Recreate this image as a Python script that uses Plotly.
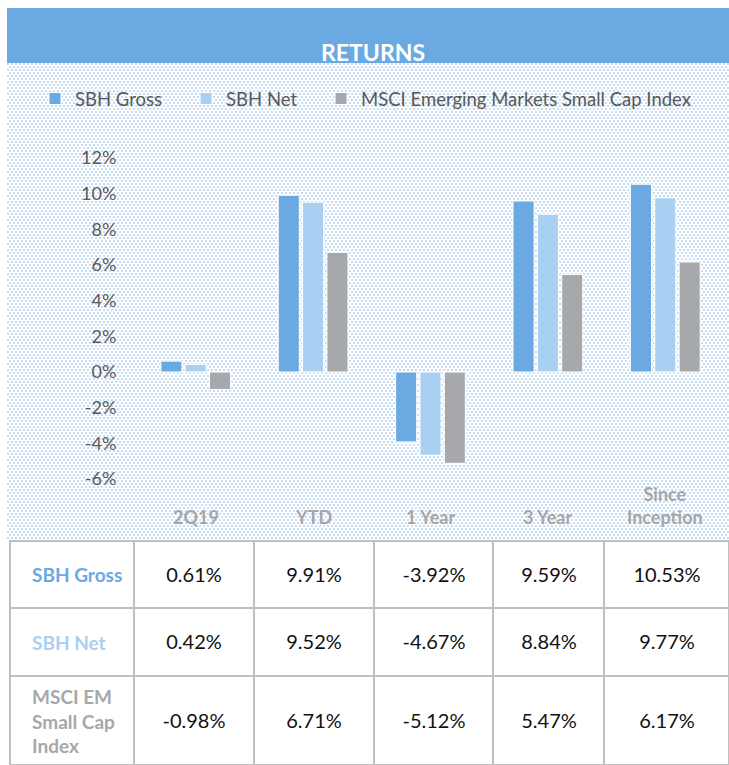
import base64
import plotly.graph_objects as go

categories = ["2Q19", "YTD", "1 Year", "3 Year", "Since Inception"]
category_labels = ["2Q19", "YTD", "1 Year", "3 Year", "Since<br>Inception"]
series_names = ["SBH Gross", "SBH Net", "MSCI Emerging Markets Small Cap Index"]
table_row_labels = ["SBH Gross", "SBH Net", "MSCI EM<br>Small Cap<br>Index"]
sbh_gross = [0.61, 9.91, -3.92, 9.59, 10.53]
sbh_net = [0.42, 9.52, -4.67, 8.84, 9.77]
msci_em_sc = [-0.98, 6.71, -5.12, 5.47, 6.17]
y_ticks = [-6, -4, -2, 0, 2, 4, 6, 8, 10, 12]

W, H = 729, 765
FONT = "Lato"
C_GROSS = "#6aa9e2"
C_NET = "#a9cff2"
C_MSCI = "#a6a8ab"
C_AXIS = "#595959"
C_GRID = "#bfbfbf"
PAD = "\u00a0" * 4

fig = go.Figure()
legend_names = [series_names[0] + PAD, series_names[1] + PAD, series_names[2]]
for name, vals, col in zip(legend_names, [sbh_gross, sbh_net, msci_em_sc], [C_GROSS, C_NET, C_MSCI]):
    fig.add_trace(go.Bar(x=categories, y=vals, name=name,
                         marker=dict(color=col, line=dict(color="white", width=1)),
                         hoverinfo="skip"))

# ---- table drawn as a heatmap grid (gaps reveal grey lines) ----
col_widths = [124, 120, 120, 119, 111, 125]
row_heights = [67, 68, 89]
x_edges = [sum(col_widths[:i]) for i in range(len(col_widths) + 1)]
y_edges = [sum(row_heights[:i]) for i in range(len(row_heights) + 1)]
series_rows = [sbh_gross, sbh_net, msci_em_sc]
cell_text = [[""] + [f"{v:.2f}%" for v in row] for row in series_rows]
fig.add_trace(go.Heatmap(
    x=x_edges, y=y_edges, z=[[0] * len(col_widths) for _ in row_heights],
    text=cell_text, texttemplate="%{text}",
    textfont=dict(family=FONT, size=20, color="#111111"),
    colorscale=[[0, "white"], [1, "white"]], showscale=False,
    xgap=2, ygap=2, xaxis="x2", yaxis="y2", hoverinfo="skip", showlegend=False,
))

# dotted background pattern
svg = ('<svg xmlns="http://www.w3.org/2000/svg" width="722" height="478">'
       '<defs><pattern id="p" width="4" height="6" patternUnits="userSpaceOnUse">'
       '<rect x="0" y="0" width="2" height="2" fill="#c5dcf5"/>'
       '<rect x="2" y="3" width="2" height="2" fill="#c5dcf5"/></pattern></defs>'
       '<rect width="722" height="478" fill="url(#p)"/></svg>')
src = "data:image/svg+xml;base64," + base64.b64encode(svg.encode()).decode()

annotations = [dict(text="<b>RETURNS</b>", x=373 / W, y=1 - 52 / H, xref="paper", yref="paper",
                    showarrow=False, font=dict(family=FONT, size=23, color="white"),
                    xanchor="center", yanchor="middle")]
for c, lab in zip(categories, category_labels):
    annotations.append(dict(text=f"<b>{lab}</b>", x=c, xref="x", y=1 - 530 / H, yref="paper",
                            showarrow=False, xanchor="center", yanchor="bottom",
                            font=dict(family=FONT, size=18, color="#a6a6a6")))
label_colors = [C_GROSS, C_NET, C_MSCI]
for i, (lab, col) in enumerate(zip(table_row_labels, label_colors)):
    annotations.append(dict(text=f"<b>{lab}</b>", x=x_edges[0], xref="x2", xshift=20,
                            y=(y_edges[i] + y_edges[i + 1]) / 2, yref="y2",
                            showarrow=False, xanchor="left", yanchor="middle", align="left",
                            font=dict(family=FONT, size=19, color=col)))

fig.update_layout(
    width=W, height=H, margin=dict(l=0, r=0, t=0, b=0, pad=0, autoexpand=False),
    paper_bgcolor="white", plot_bgcolor="rgba(0,0,0,0)",
    barmode="group", bargap=0.378, bargroupgap=0.135,
    showlegend=True,
    legend=dict(orientation="h", x=35 / W, xanchor="left", y=1 - 99 / H, yanchor="middle",
                font=dict(family=FONT, size=18.5, color=C_AXIS), bgcolor="rgba(0,0,0,0)",
                traceorder="normal"),
    xaxis=dict(domain=[137 / W, 724 / W], showticklabels=False, showgrid=False, zeroline=False,
               showline=False, ticks="", fixedrange=True, automargin=False),
    yaxis=dict(domain=[1 - 479 / H, 1 - 158 / H], range=[-6, 12], tickvals=y_ticks,
               ticktext=[f"{t}%" for t in y_ticks], showgrid=False, zeroline=False,
               showline=False, ticks="outside", ticklen=16, tickcolor="rgba(0,0,0,0)",
               tickfont=dict(family=FONT, size=18, color=C_AXIS), fixedrange=True,
               automargin=False),
    xaxis2=dict(domain=[10 / W, 1], range=[x_edges[0], x_edges[-1]], visible=False,
                fixedrange=True, automargin=False),
    yaxis2=dict(domain=[0, 1 - 541 / H], range=[y_edges[-1], y_edges[0]], visible=False,
                fixedrange=True, automargin=False),
    shapes=[
        dict(type="rect", xref="paper", yref="paper", x0=7 / W, x1=1,
             y0=1 - 63 / H, y1=1 - 8 / H, fillcolor=C_GROSS, line=dict(width=0), layer="below"),
        dict(type="rect", xref="paper", yref="paper", x0=9 / W, x1=1,
             y0=0, y1=1 - 540 / H, fillcolor=C_GRID, line=dict(width=0), layer="below"),
    ],
    images=[dict(source=src, xref="paper", yref="paper", x=7 / W, y=1 - 63 / H,
                 sizex=722 / W, sizey=478 / H, xanchor="left", yanchor="top",
                 sizing="stretch", layer="below")],
    annotations=annotations,
)
fig.write_html("out.html", config={"displayModeBar": False},
               post_script="document.body.style.margin='0px';document.body.style.overflow='hidden';")
